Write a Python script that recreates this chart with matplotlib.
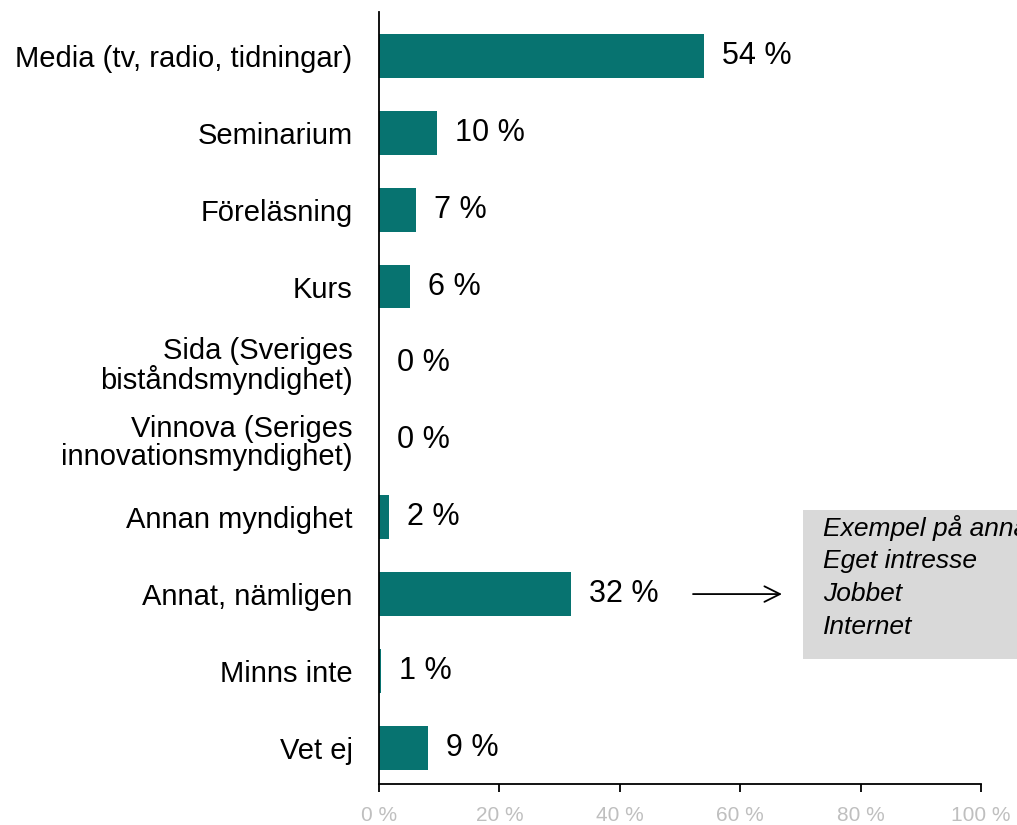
import matplotlib.pyplot as plt
from matplotlib.patches import Rectangle

plt.rcParams['font.family'] = ['Liberation Sans', 'DejaVu Sans']

# Data
categories = ['Media (tv, radio, tidningar)', 'Seminarium', 'Föreläsning', 'Kurs',
              'Sida (Sveriges\nbiståndsmyndighet)', 'Vinnova (Seriges\ninnovationsmyndighet)',
              'Annan myndighet', 'Annat, nämligen', 'Minns inte', 'Vet ej']
values = [54, 9.6, 6.1, 5.2, 0, 0, 1.7, 31.9, 0.4, 8.1]
value_labels = ['54 %', '10 %', '7 %', '6 %', '0 %', '0 %', '2 %', '32 %', '1 %', '9 %']
xticks = [0, 20, 40, 60, 80, 100]
annat_lines = ['Exempel på annat:', 'Eget intresse', 'Jobbet', 'Internet']

fig = plt.figure(figsize=(10.17, 8.25), dpi=100)
ax = fig.add_axes([379 / 1017, 41 / 825, 602 / 1017, 772 / 825])

y = range(len(categories))
ax.barh(y, values, height=0.57, color='#077370')
for yi, v, lab in zip(y, values, value_labels):
    ax.annotate(lab, (v, yi), xytext=(13, 0), textcoords='offset points',
                va='center', ha='left', fontsize=22)

ax.set_ylim(9.47, -0.57)
ax.set_xlim(0, 100)
ax.set_yticks(list(y))
ax.set_yticklabels(categories, fontsize=21, linespacing=1.0)
ax.tick_params(axis='y', length=0, pad=19)
ax.set_xticks(xticks)
ax.set_xticklabels([f'{t} %' for t in xticks], fontsize=15, color='#bfbfbf')
ax.tick_params(axis='x', length=6, width=1.3, direction='out', pad=10)
for s in ['top', 'right']:
    ax.spines[s].set_visible(False)
ax.spines['left'].set_linewidth(1.3)
ax.spines['bottom'].set_linewidth(1.3)

# Kommentarsruta for "Annat"
ax.add_patch(Rectangle((70.4, 5.906), 40, 1.937, facecolor='#d9d9d9',
                       edgecolor='none', clip_on=False, zorder=0))
ax.annotate('', xy=(67.4, 7), xytext=(51.7, 7),
            arrowprops=dict(arrowstyle='->', color='black', lw=1.3,
                            mutation_scale=28), annotation_clip=False)
for i, line in enumerate(annat_lines):
    ax.text(73.7, 6.14 + i * 0.429, line, fontsize=19, style='italic',
            va='center', ha='left', clip_on=False)

fig.savefig('out.png', dpi=100)
